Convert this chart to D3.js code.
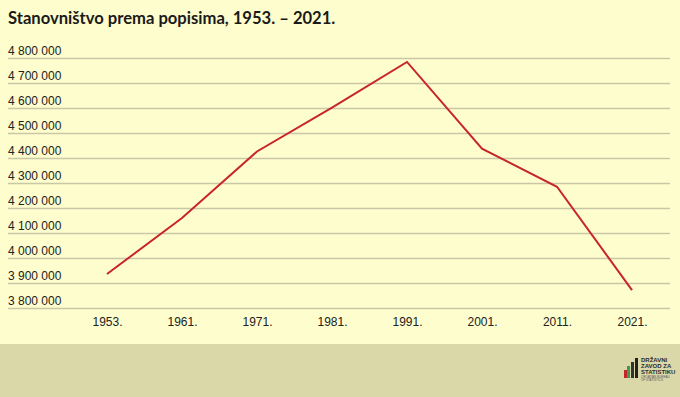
<!DOCTYPE html>
<html>
<head>
<meta charset="utf-8">
<style>
  body { margin: 0; background: #fefdcd; }
  svg { display: block; }
</style>
</head>
<body>
<script src="https://cdn.jsdelivr.net/npm/d3@7/dist/d3.min.js"></script>
<script>
var years = ['1953.', '1961.', '1971.', '1981.', '1991.', '2001.', '2011.', '2021.']
var population = [3936022, 4159696, 4426221, 4601469, 4784265, 4437460, 4284889, 3871833]
var yTicks = [3800000, 3900000, 4000000, 4100000, 4200000, 4300000, 4400000, 4500000, 4600000, 4700000, 4800000]

var width = 680
var height = 397

var svg = d3.select('body').append('svg')
  .attr('width', width)
  .attr('height', height)

svg.append('rect')
  .attr('width', width).attr('height', height)
  .attr('fill', '#fefdcd')

// footer band
svg.append('rect')
  .attr('x', 0).attr('y', 344)
  .attr('width', width).attr('height', height - 344)
  .attr('fill', '#dad8a8')

svg.append('text')
  .attr('x', 8).attr('y', 24)
  .attr('font-family', 'Lato, "Open Sans", sans-serif')
  .attr('font-weight', 'bold')
  .attr('font-size', 16.6)
  .attr('fill', '#1a1a1a')
  .text('Stanovništvo prema popisima, 1953. – 2021.')

var xScale = d3.scalePoint()
  .domain(years)
  .range([107, 632])

var yScale = d3.scaleLinear()
  .domain([3800000, 4800000])
  .range([308, 58])

var fmt = function(d) { return d3.format(',')(d).replace(/,/g, ' ') }

// gridlines + labels
var yAxis = d3.axisLeft(yScale)
  .tickValues(yTicks)
  .tickSize(-662)
  .tickFormat(fmt)

var gy = svg.append('g')
  .attr('transform', 'translate(8,0)')
  .call(yAxis)
gy.select('.domain').remove()
gy.selectAll('.tick line')
  .attr('stroke', '#c9c8a6')
  .attr('stroke-width', 1.5)
gy.selectAll('.tick text')
  .attr('x', 0)
  .attr('dy', -4)
  .attr('text-anchor', 'start')
  .attr('font-family', '"Liberation Sans", Arial, sans-serif')
  .attr('font-size', 12)
  .attr('fill', '#222')

var xAxis = d3.axisBottom(xScale).tickSize(0).tickPadding(0)
var gx = svg.append('g')
  .attr('transform', 'translate(0,317)')
  .call(xAxis)
gx.select('.domain').remove()
gx.selectAll('.tick text')
  .attr('font-family', '"Liberation Sans", Arial, sans-serif')
  .attr('font-size', 12)
  .attr('fill', '#222')

var line = d3.line()
  .x(function(d, i) { return xScale(years[i]) })
  .y(function(d) { return yScale(d) })

svg.append('path')
  .datum(population)
  .attr('d', line)
  .attr('fill', 'none')
  .attr('stroke', '#c8252b')
  .attr('stroke-width', 2)

// logo
var logo = svg.append('g').attr('transform', 'translate(624,356)')
var bars = [[0, 12, 8, '#c8252b'], [3, 8, 12, '#3a9a5a'], [7, 4, 16, '#333'], [11, 0, 20, '#222']]
bars.forEach(function(b) {
  logo.append('rect').attr('x', b[0]).attr('y', b[1] + 2).attr('width', 3).attr('height', b[2]).attr('fill', b[3])
})
var logoText = ['DRŽAVNI', 'ZAVOD ZA', 'STATISTIKU']
logoText.forEach(function(t, i) {
  logo.append('text')
    .attr('x', 17).attr('y', 6 + i * 6)
    .attr('font-family', '"Liberation Sans", Arial, sans-serif')
    .attr('font-size', 6).attr('font-weight', 'bold')
    .attr('fill', '#2b2b2b')
    .text(t)
})
logo.append('text')
  .attr('x', 17).attr('y', 22)
  .attr('font-family', '"Liberation Sans", Arial, sans-serif')
  .attr('font-size', 3).attr('fill', '#555')
  .text('CROATIAN BUREAU')
logo.append('text')
  .attr('x', 17).attr('y', 25)
  .attr('font-family', '"Liberation Sans", Arial, sans-serif')
  .attr('font-size', 3).attr('fill', '#555')
  .text('OF STATISTICS')
</script>
</body>
</html>
